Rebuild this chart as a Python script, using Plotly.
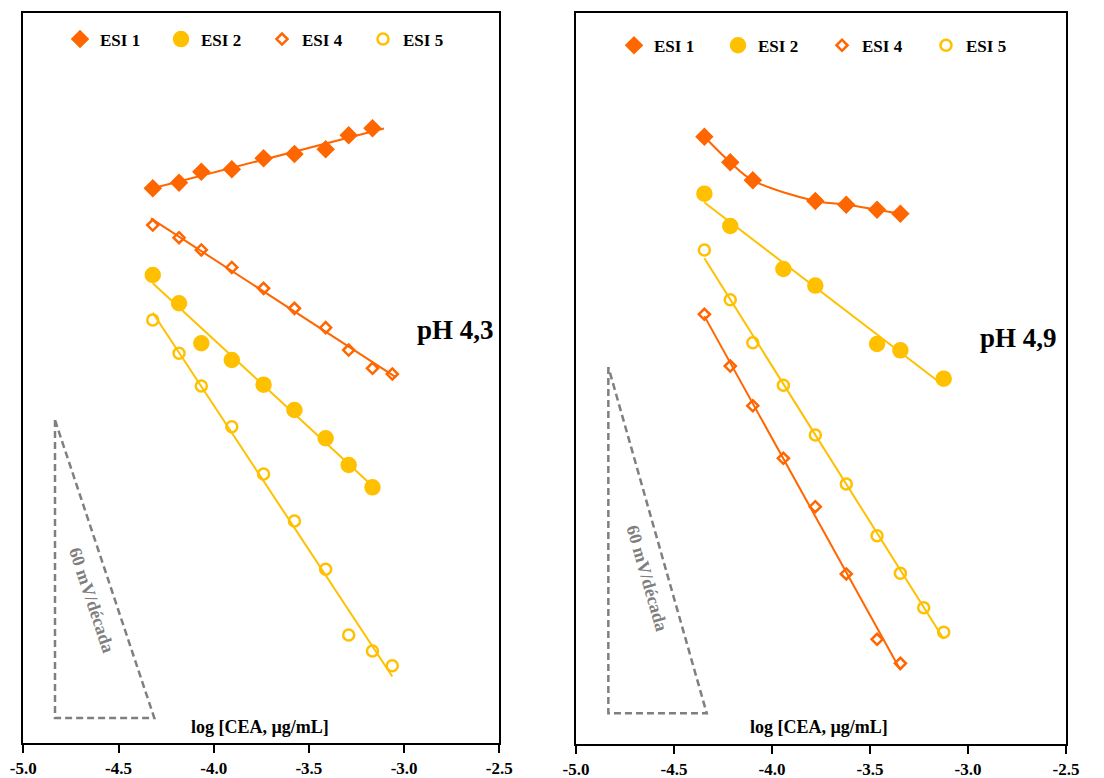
import numpy as np
import plotly.graph_objects as go

# ---------------- data (x = log[CEA, µg/mL], y = potential, mV; arbitrary origin) ----------------
# Left panel: pH 4,3
x_left9 = [-4.320, -4.182, -4.065, -3.905, -3.738, -3.576, -3.412, -3.291, -3.166]
x_left10 = [-4.320, -4.182, -4.065, -3.905, -3.738, -3.576, -3.412, -3.291, -3.166, -3.062]
esi1_left = [58.30, 58.89, 60.04, 60.29, 61.45, 61.90, 62.39, 63.87, 64.60]
esi2_left = [49.19, 46.22, 42.02, 40.26, 37.67, 35.01, 32.04, 29.23, 26.89]
esi4_left = [54.44, 53.11, 51.82, 49.98, 47.79, 45.69, 43.66, 41.31, 39.39, 38.79]
esi5_left = [44.46, 40.97, 37.53, 33.26, 28.29, 23.35, 18.28, 11.38, 9.70, 8.15]

# Right panel: pH 4,9
x_esi1_right = [-4.345, -4.213, -4.098, -3.779, -3.621, -3.464, -3.345]
esi1_right = [53.04, 50.82, 49.25, 47.45, 47.13, 46.70, 46.35]
x_esi2_right = [-4.345, -4.213, -3.942, -3.779, -3.464, -3.345, -3.124]
esi2_right = [48.09, 45.28, 41.54, 40.10, 35.02, 34.47, 32.00]
x_esi4_right = [-4.345, -4.213, -4.098, -3.942, -3.779, -3.621, -3.464, -3.345]
esi4_right = [37.60, 33.10, 29.65, 25.08, 20.87, 15.02, 9.34, 7.25]
x_esi5_right = [-4.345, -4.213, -4.098, -3.942, -3.779, -3.621, -3.464, -3.345, -3.226, -3.124]
esi5_right = [43.19, 38.87, 35.13, 31.43, 27.10, 22.84, 18.35, 15.08, 12.09, 9.95]

x_ticks = [-5.0, -4.5, -4.0, -3.5, -3.0, -2.5]
x_tick_text = ["-5.0", "-4.5", "-4.0", "-3.5", "-3.0", "-2.5"]
panel_labels = ["pH 4,3", "pH 4,9"]
series_names = ["ESI 1", "ESI 2", "ESI 4", "ESI 5"]
axis_title = "log [CEA, µg/mL]"
slope_label = "60 mV/década"
nernst_slope = 60.0  # mV per decade
# reference triangle: left x, right x, base y (data units) per panel
tri_left = (-4.8335, -4.312, 2.66)
tri_right = (-4.835, -4.333, 2.90)

# ---------------- styling ----------------
ORANGE = "#FF6600"
GOLD = "#FFC000"
GRAY = "#7F7F7F"
SERIF = "Liberation Serif"

fig = go.Figure()


def add_series(xs, ys, name, color, symbol, size, xa, ya, legend, fit="linear", ext=(0.0, 0.0)):
    fig.add_trace(go.Scatter(
        x=xs, y=ys, mode="markers", name=name, xaxis=xa, yaxis=ya, legend=legend,
        marker=dict(symbol=symbol, size=size, color=color,
                    line=dict(color=color, width=2.5)),
        showlegend=True, hoverinfo="x+y"))
    if fit == "linear":
        c = np.polyfit(xs, ys, 1)
        fx = np.array([min(xs) - ext[0], max(xs) + ext[1]])
        fig.add_trace(go.Scatter(x=fx, y=np.polyval(c, fx), mode="lines", xaxis=xa, yaxis=ya,
                                 line=dict(color=color, width=2), showlegend=False,
                                 hoverinfo="skip"))
    else:
        fig.add_trace(go.Scatter(x=xs, y=ys, mode="lines", xaxis=xa, yaxis=ya,
                                 line=dict(color=color, width=2, shape="spline", smoothing=1.0),
                                 showlegend=False, hoverinfo="skip"))


# Left panel
add_series(x_left9, esi1_left, series_names[0], ORANGE, "diamond", 11.5, "x", "y", "legend", ext=(0.03, 0.06))
add_series(x_left9, esi2_left, series_names[1], GOLD, "circle", 14, "x", "y", "legend")
add_series(x_left10, esi4_left, series_names[2], ORANGE, "diamond-open", 8.5, "x", "y", "legend", ext=(0.01, 0.02))
add_series(x_left10, esi5_left, series_names[3], GOLD, "circle-open", 11, "x", "y", "legend")
# Right panel
add_series(x_esi1_right, esi1_right, series_names[0], ORANGE, "diamond", 11.5, "x2", "y2", "legend2", fit="spline")
add_series(x_esi2_right, esi2_right, series_names[1], GOLD, "circle", 14, "x2", "y2", "legend2")
add_series(x_esi4_right, esi4_right, series_names[2], ORANGE, "diamond-open", 8.5, "x2", "y2", "legend2")
add_series(x_esi5_right, esi5_right, series_names[3], GOLD, "circle-open", 11, "x2", "y2", "legend2")

# 60 mV/decade reference triangles
for (x0, x1, yb), xa, ya in [(tri_left, "x", "y"), (tri_right, "x2", "y2")]:
    yt = yb + nernst_slope * (x1 - x0)
    fig.add_trace(go.Scatter(x=[x0, x0, x1, x0], y=[yt, yb, yb, yt], mode="lines",
                             xaxis=xa, yaxis=ya, showlegend=False, hoverinfo="skip",
                             line=dict(color=GRAY, width=2.5, dash="7px,4px")))

axis_font = dict(family=SERIF, size=17, color="black", weight="bold")
xcommon = dict(range=[-5.0, -2.5], tickvals=x_ticks, ticktext=x_tick_text, ticks="outside",
               ticklen=8, tickwidth=2, tickcolor="black", showline=True, mirror=True,
               linecolor="black", linewidth=2, showgrid=False, zeroline=False,
               tickfont=axis_font, automargin=False)
ycommon = dict(showline=True, mirror=True, linecolor="black", linewidth=2, showgrid=False,
               zeroline=False, showticklabels=False, ticks="", automargin=False)

W, H = 1104, 778
legend_font = dict(family=SERIF, size=17, color="black", weight="bold")
fig.update_layout(
    width=W, height=H,
    margin=dict(l=0, r=0, t=0, b=0, autoexpand=False),
    paper_bgcolor="white", plot_bgcolor="white",
    xaxis=dict(domain=[23.3 / W, 499.3 / W], anchor="y", **xcommon),
    yaxis=dict(domain=[1 - 743.3 / H, 1 - 13.0 / H], anchor="x", range=[0, 730.3 / 9.52], **ycommon),
    xaxis2=dict(domain=[576 / W, 1066 / W], anchor="y2", **xcommon),
    yaxis2=dict(domain=[1 - 744.4 / H, 1 - 13.3 / H], anchor="x2", range=[0.2, 731.1 / 11.5 + 0.2], **ycommon),
    legend=dict(orientation="h", x=60 / W, y=1 - 39.5 / H, xanchor="left", yanchor="middle",
                bgcolor="rgba(0,0,0,0)", entrywidth=56, entrywidthmode="pixels",
                font=legend_font),
    legend2=dict(orientation="h", x=614 / W, y=1 - 45.7 / H, xanchor="left", yanchor="middle",
                 bgcolor="rgba(0,0,0,0)", entrywidth=59, entrywidthmode="pixels",
                 font=legend_font),
    showlegend=True,
)

ann_font = dict(family=SERIF, size=18, color="black", weight="bold")
ph_font = dict(family=SERIF, size=27, color="black", weight="bold")
slope_font = dict(family=SERIF, size=18, color=GRAY, weight="bold")
common = dict(showarrow=False, xanchor="center", yanchor="middle")
annotations = [
    dict(text=panel_labels[0], x=455.5 / W, y=1 - 330.5 / H, xref="paper", yref="paper",
         font=ph_font, **common),
    dict(text=panel_labels[1], x=1018.5 / W, y=1 - 337.5 / H, xref="paper", yref="paper",
         font=ph_font, **common),
    dict(text=axis_title, x=260 / W, y=1 - 727 / H, xref="paper", yref="paper",
         font=ann_font, **common),
    dict(text=axis_title, x=819 / W, y=1 - 727 / H, xref="paper", yref="paper",
         font=ann_font, **common),
    dict(text=slope_label, x=-4.641, y=15.05, xref="x", yref="y",
         textangle=71.6, font=slope_font, **common),
    dict(text=slope_label, x=-4.639, y=14.64, xref="x2", yref="y2",
         textangle=74, font=slope_font, **common),
]
fig.update_layout(annotations=annotations)

fig.write_html("out.html")
